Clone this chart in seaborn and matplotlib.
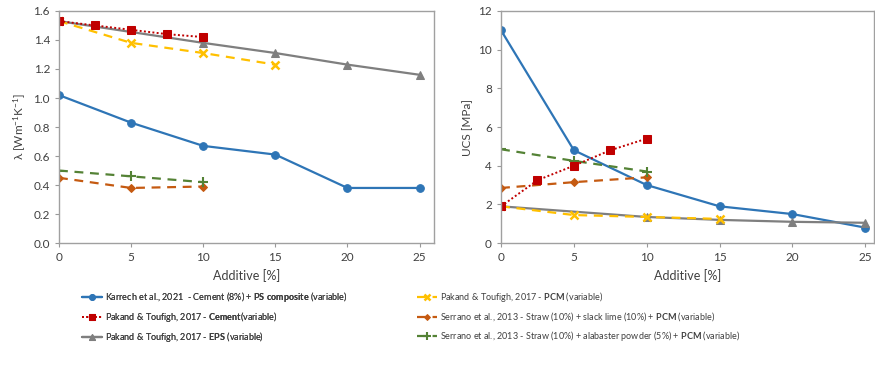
import matplotlib
matplotlib.use("Agg")
import matplotlib.pyplot as plt
import seaborn as sns

sns.set_theme(style="ticks")
plt.rcParams["font.family"] = ["Lato", "DejaVu Sans"]
plt.rcParams["mathtext.fontset"] = "custom"
plt.rcParams["mathtext.rm"] = "Lato"
plt.rcParams["mathtext.it"] = "Lato:italic"
plt.rcParams["mathtext.bf"] = "Lato:bold"

# Additive content [%] per series
x_karrech = [0, 5, 10, 15, 20, 25]
x_cement = [0, 2.5, 5, 7.5, 10]
x_eps = [0, 10, 15, 20, 25]
x_pcm = [0, 5, 10, 15]
x_lime = [0, 5, 10]
x_alab = [0, 5, 10]

# Thermal conductivity λ [W m-1 K-1]
lam_karrech = [1.02, 0.83, 0.67, 0.61, 0.38, 0.38]
lam_cement = [1.53, 1.50, 1.47, 1.44, 1.42]
lam_eps = [1.53, 1.38, 1.31, 1.23, 1.16]
lam_pcm = [1.53, 1.38, 1.31, 1.23]
lam_lime = [0.45, 0.38, 0.39]
lam_alab = [0.50, 0.46, 0.42]

# Unconfined compressive strength [MPa]
ucs_karrech = [11.0, 4.8, 3.0, 1.9, 1.5, 0.8]
ucs_cement = [1.9, 3.25, 4.0, 4.8, 5.4]
ucs_eps = [1.9, 1.35, 1.2, 1.1, 1.05]
ucs_pcm = [1.9, 1.45, 1.35, 1.25]
ucs_lime = [2.85, 3.15, 3.4]
ucs_alab = [4.85, 4.25, 3.7]

labels = [
    r"Karrech et al., 2021  - Cement (8%) + $\bf{PS\ composite}$ (variable)",
    r"Pakand & Toufigh, 2017 - $\bf{Cement}$(variable)",
    r"Pakand & Toufigh, 2017 - $\bf{EPS}$ (variable)",
    r"Pakand & Toufigh, 2017 - $\bf{PCM}$ (variable)",
    r"Serrano et al., 2013 - Straw (10%) + slack lime (10%) + $\bf{PCM}$ (variable)",
    r"Serrano et al., 2013 - Straw (10%) + alabaster powder (5%) + $\bf{PCM}$ (variable)",
]

styles = [
    dict(color="#2E75B6", marker="o", linestyle="-", markersize=5.5, linewidth=1.6),
    dict(color="#C00000", marker="s", linestyle=(0, (1, 1.2)), markersize=5.5, linewidth=1.4),
    dict(color="#7F7F7F", marker="^", linestyle="-", markersize=5.5, linewidth=1.6),
    dict(color="#FFC000", marker="x", linestyle=(0, (4, 3)), markersize=6,
         linewidth=1.6, markeredgewidth=1.8),
    dict(color="#C55A11", marker="D", linestyle=(0, (4, 3)), markersize=4, linewidth=1.6),
    dict(color="#548235", marker="+", linestyle=(0, (4, 3)), markersize=7,
         linewidth=1.6, markeredgewidth=1.5),
]

xs = [x_karrech, x_cement, x_eps, x_pcm, x_lime, x_alab]
lam = [lam_karrech, lam_cement, lam_eps, lam_pcm, lam_lime, lam_alab]
ucs = [ucs_karrech, ucs_cement, ucs_eps, ucs_pcm, ucs_lime, ucs_alab]

fig = plt.figure(figsize=(8.75, 3.65), dpi=100)
ax1 = fig.add_axes([0.0674, 0.334, 0.4286, 0.636])
ax2 = fig.add_axes([0.5726, 0.334, 0.4263, 0.636])

draw_order = [0, 2, 4, 5, 3, 1]
for ax, ys in ((ax1, lam), (ax2, ucs)):
    for i in draw_order:
        sns.lineplot(x=xs[i], y=ys[i], ax=ax, label=labels[i], legend=False,
                     markeredgecolor=styles[i]["color"], **styles[i])

ax1.set_xlim(0, 26)
ax1.set_ylim(0, 1.6)
ax1.set_yticks([0.0, 0.2, 0.4, 0.6, 0.8, 1.0, 1.2, 1.4, 1.6])
ax1.set_yticklabels([f"{v:.1f}" for v in ax1.get_yticks()])
ax1.set_ylabel(r"λ [Wm$^{-1}$K$^{-1}$]", fontsize=8.5, color="#404040")

ax2.set_xlim(0, 25.6)
ax2.set_ylim(0, 12)
ax2.set_yticks([0, 2, 4, 6, 8, 10, 12])
ax2.set_ylabel("UCS [MPa]", fontsize=8.5, color="#404040")

for ax in (ax1, ax2):
    ax.set_xticks([0, 5, 10, 15, 20, 25])
    ax.set_xlabel("Additive [%]", fontsize=9, color="#404040", labelpad=4)
    ax.tick_params(labelsize=8.5, colors="#404040", length=3, width=0.8, color="#999999")
    for s in ax.spines.values():
        s.set_color("#A0A0A0")
        s.set_linewidth(1.0)

handles, lbls = ax1.get_legend_handles_labels()
order = [lbls.index(l) for l in labels]
hs = [handles[k] for k in order]
ls = [lbls[k] for k in order]
legend_kw = dict(loc="upper left", ncol=1, frameon=False, fontsize=6.5,
                 handlelength=2.2, labelspacing=0.68, handletextpad=0.3,
                 markerscale=0.75, labelcolor="#404040", borderaxespad=0, borderpad=0)
leg1 = fig.legend(hs[:3], ls[:3], bbox_to_anchor=(0.094, 0.205), **legend_kw)
fig.add_artist(leg1)
fig.legend(hs[3:], ls[3:], bbox_to_anchor=(0.477, 0.205), **legend_kw)

fig.savefig("out.png", dpi=100)
